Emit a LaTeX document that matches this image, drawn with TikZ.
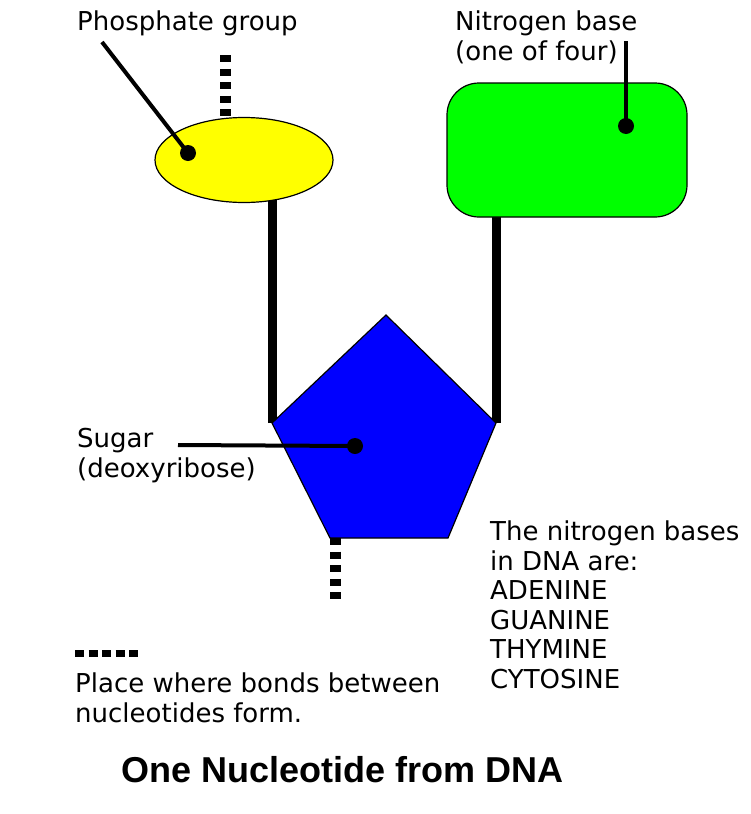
\documentclass[tikz,border=0pt]{standalone}
\usepackage{fontspec}
\setmainfont{DejaVu Sans}
\newfontfamily\titlefont{Liberation Sans}
\usetikzlibrary{shapes.geometric,backgrounds}
\definecolor{phosyellow}{RGB}{255,255,0}
\definecolor{basegreen}{RGB}{0,255,0}
\definecolor{sugarblue}{RGB}{0,0,255}

\begin{document}
\begin{tikzpicture}[x=1pt,y=-1pt,line join=miter,
    labeltext/.style={anchor=base west,inner sep=0pt,align=left,font=\fontsize{26}{29.5}\selectfont},
    dot/.style={circle,fill=black,inner sep=0pt,minimum size=16pt},
    pointer/.style={line width=4pt},
    stem/.style={line width=9pt},
    bondtick/.style={line width=11pt,dash pattern=on 7pt off 6.5pt},
    outlined/.style={draw=black,line width=1.2pt}]
    \useasboundingbox (0,0) rectangle (751,814);

    % phosphate and base
    \node[ellipse,outlined,fill=phosyellow,inner sep=0pt,minimum width=178pt,minimum height=85pt] (phosphate) at (244,160) {};
    \node[rectangle,rounded corners=32pt,outlined,fill=basegreen,inner sep=0pt,minimum width=240pt,minimum height=134pt] (base) at (567,150) {};

    % sugar
    \coordinate (sTop) at (386,315);
    \coordinate (sR) at (496,423);
    \coordinate (sBR) at (448,538);
    \coordinate (sBL) at (330,538);
    \coordinate (sL) at (272,423);
    \draw[outlined,fill=sugarblue] (sTop) -- (sR) -- (sBR) -- (sBL) -- (sL) -- cycle;

    \begin{scope}[on background layer]
        \fill[white] (0,0) rectangle (751,814);
        \draw[stem] (sL) -- (sL |- phosphate.center);
        \draw[stem] (sR) -- (sR |- base.center);
    \end{scope}

    % bond places
    \coordinate (bondP) at (225,55);
    \coordinate (bondS) at (335,600);
    \draw[bondtick] (bondP) -- (bondP |- phosphate.north);
    \draw[bondtick] (bondS |- sBL) -- (bondS);

    % labels (base anchor sits on the last line)
    \node[labeltext] (phoslabel) at (77,30) {Phosphate group};
    \node[labeltext] (baselabel) at (455,60) {Nitrogen base\\(one of four)};
    \node[labeltext] (sugarlabel) at (77,477) {Sugar\\(deoxyribose)};
    \node[labeltext] (baselist) at (490,688) {The nitrogen bases\\in DNA are:\\ADENINE\\GUANINE\\THYMINE\\CYTOSINE};
    \node[labeltext] (legend) at (75,722) {Place where bonds between\\nucleotides form.};
    \node[anchor=base,inner sep=0pt,font=\titlefont\bfseries\fontsize{36}{40}\selectfont] (title) at (342.5,782) {One Nucleotide from DNA};

    % pointers
    \node[dot] (pdot) at (188,153) {};
    \node[dot] (bdot) at (626,126) {};
    \node[dot] (sdot) at (355,446) {};
    \coordinate (ptail) at (102,42);
    \coordinate (btail) at (626,41);
    \coordinate (stail) at (178,445);
    \draw[pointer] (ptail) -- (pdot.center);
    \draw[pointer] (btail) -- (bdot.center);
    \draw[pointer] (stail) -- (sdot.center);

    % legend mark
    \coordinate (legA) at (75,653.5);
    \coordinate (legB) at (138,653.5);
    \draw[line width=7pt,dash pattern=on 9pt off 4.5pt] (legA) -- (legB);
\end{tikzpicture}
\end{document}
